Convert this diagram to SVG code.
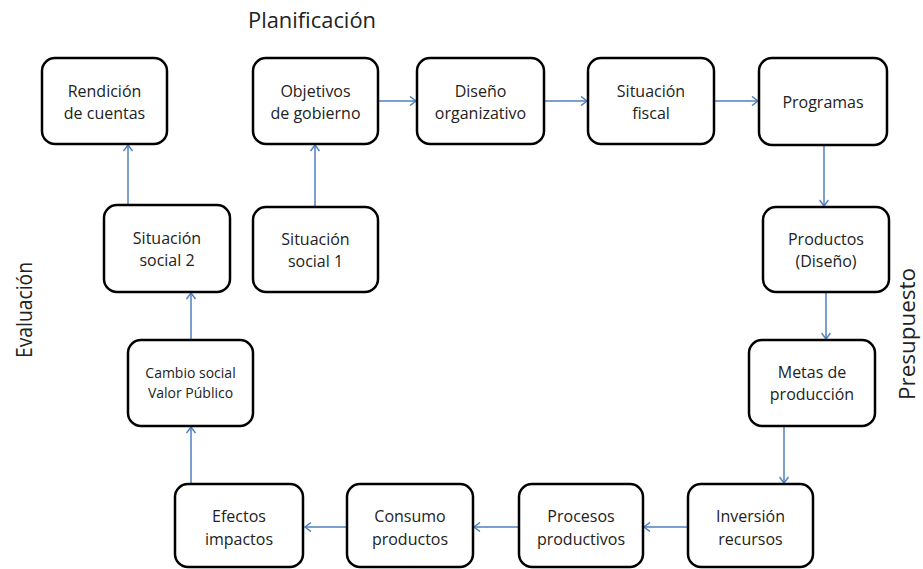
<svg xmlns="http://www.w3.org/2000/svg" width="923" height="569" viewBox="0 0 923 569">
<defs>
<marker id="arr" markerWidth="10" markerHeight="10" refX="8" refY="5" orient="auto" markerUnits="userSpaceOnUse">
<path d="M2,0.5 L8,5 L2,9.5" fill="none" stroke="#4f81bd" stroke-width="1.5"/>
</marker>
<style>
.box{fill:#fff;stroke:#000;stroke-width:2.5}
.t{font-family:"Open Sans","Noto Sans",sans-serif;font-size:16px;fill:#222;text-anchor:middle}
.ts{font-family:"Open Sans","Noto Sans",sans-serif;font-size:14px;fill:#222;text-anchor:middle}
.title{font-family:"Open Sans","Noto Sans",sans-serif;font-size:21px;fill:#222}
.c{fill:none;stroke:#4f81bd;stroke-width:1.5;marker-end:url(#arr)}
</style>
</defs>
<rect width="923" height="569" fill="#fff"/>
<text class="title" x="248" y="28" textLength="128" lengthAdjust="spacingAndGlyphs">Planificación</text>
<text class="title" transform="translate(32,310) rotate(-90)" text-anchor="middle" textLength="96" lengthAdjust="spacingAndGlyphs">Evaluación</text>
<text class="title" transform="translate(915,334) rotate(-90)" text-anchor="middle" textLength="132" lengthAdjust="spacingAndGlyphs">Presupuesto</text>

<g id="connectors">
<path class="c" d="M378,101 H416"/>
<path class="c" d="M544,101 H587"/>
<path class="c" d="M714,101 H758"/>
<path class="c" d="M824,145 V206"/>
<path class="c" d="M826,292 V339"/>
<path class="c" d="M784,426 V483"/>
<path class="c" d="M688,527 H644"/>
<path class="c" d="M519,527 H474"/>
<path class="c" d="M347,527 H305"/>
<path class="c" d="M191,483 V427"/>
<path class="c" d="M191,340 V293"/>
<path class="c" d="M128,205 V145"/>
<path class="c" d="M315,207 V145"/>
</g>

<g id="rendicion"><rect class="box" x="42" y="58" width="125" height="86" rx="13"/>
<text class="t" x="104.5" y="97">Rendición</text><text class="t" x="104.5" y="119">de cuentas</text></g>
<g id="objetivos"><rect class="box" x="253" y="58" width="125" height="86" rx="13"/>
<text class="t" x="315.5" y="97">Objetivos</text><text class="t" x="315.5" y="119">de gobierno</text></g>
<g id="diseno"><rect class="box" x="417" y="58" width="127" height="86" rx="13"/>
<text class="t" x="480.5" y="97">Diseño</text><text class="t" x="480.5" y="119">organizativo</text></g>
<g id="fiscal"><rect class="box" x="588" y="58" width="126" height="86" rx="13"/>
<text class="t" x="651" y="97">Situación</text><text class="t" x="651" y="119">fiscal</text></g>
<g id="programas"><rect class="box" x="759" y="58" width="128" height="87" rx="13"/>
<text class="t" x="823" y="108">Programas</text></g>
<g id="social2"><rect class="box" x="104" y="205" width="126" height="87" rx="13"/>
<text class="t" x="167" y="244">Situación</text><text class="t" x="167" y="266">social 2</text></g>
<g id="social1"><rect class="box" x="253" y="207" width="125" height="85" rx="13"/>
<text class="t" x="315.5" y="245">Situación</text><text class="t" x="315.5" y="267">social 1</text></g>
<g id="productos"><rect class="box" x="763" y="207" width="126" height="85" rx="13"/>
<text class="t" x="826" y="245">Productos</text><text class="t" x="826" y="267">(Diseño)</text></g>
<g id="cambio"><rect class="box" x="128" y="340" width="125" height="86" rx="13"/>
<text class="ts" x="190.5" y="378">Cambio social</text><text class="ts" x="190.5" y="398">Valor Público</text></g>
<g id="metas"><rect class="box" x="749" y="340" width="126" height="86" rx="13"/>
<text class="t" x="812" y="378">Metas de</text><text class="t" x="812" y="400">producción</text></g>
<g id="efectos"><rect class="box" x="175" y="484" width="128" height="83" rx="13"/>
<text class="t" x="239" y="522">Efectos</text><text class="t" x="239" y="545">impactos</text></g>
<g id="consumo"><rect class="box" x="347" y="484" width="126" height="83" rx="13"/>
<text class="t" x="410" y="522">Consumo</text><text class="t" x="410" y="545">productos</text></g>
<g id="procesos"><rect class="box" x="519" y="484" width="124" height="83" rx="13"/>
<text class="t" x="581" y="522">Procesos</text><text class="t" x="581" y="545">productivos</text></g>
<g id="inversion"><rect class="box" x="688" y="484" width="125" height="83" rx="13"/>
<text class="t" x="750.5" y="522">Inversión</text><text class="t" x="750.5" y="545">recursos</text></g>
</svg>
